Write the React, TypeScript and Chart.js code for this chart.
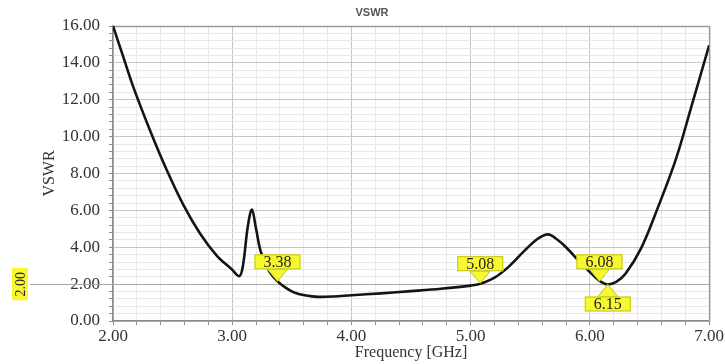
import React, { useEffect, useRef } from 'react';
import { Chart, registerables } from 'chart.js';

Chart.register(...registerables);

// ---- data ----
const freqGHz = [
  2.0, 2.08, 2.17, 2.31, 2.45, 2.59, 2.73, 2.87, 3.0, 3.06, 3.09, 3.13, 3.165,
  3.2, 3.24, 3.31, 3.38, 3.45, 3.52, 3.62, 3.72, 3.85, 4.0, 4.25, 4.5, 4.75,
  5.0, 5.08, 5.2, 5.32, 5.45, 5.56, 5.65, 5.72, 5.8, 5.93, 6.05, 6.1, 6.15,
  6.22, 6.3, 6.43, 6.57, 6.72, 6.85, 7.0,
];
const vswr = [
  16.0, 14.45, 12.7, 10.35, 8.2, 6.3, 4.75, 3.55, 2.78, 2.43, 3.0, 5.1, 6.05,
  5.0, 3.75, 2.7, 2.15, 1.8, 1.55, 1.38, 1.31, 1.33, 1.4, 1.5, 1.62, 1.75,
  1.92, 2.02, 2.35, 2.95, 3.8, 4.45, 4.7, 4.45, 4.0, 3.1, 2.35, 2.1, 1.98,
  2.12, 2.58, 3.95, 6.15, 8.75, 11.6, 14.95,
];

const markerFreqs = [3.38, 5.08, 6.08, 6.15];
const markerVswr = [2.15, 2.05, 2.15, 1.98];
const markerLabels = ['3.38', '5.08', '6.08', '6.15'];
const markerBelow = [false, false, false, true];

const refLineValue = 2;
const refLineLabel = '2.00';
const chartTitle = 'VSWR';
const xTitle = 'Frequency [GHz]';
const yTitle = 'VSWR';

const isMultiple = (v: number, m: number) => Math.abs(v / m - Math.round(v / m)) < 1e-6;

const SERIF = "'Liberation Serif', 'DejaVu Serif', serif";

const overlayPlugin = {
  id: 'overlay',
  beforeDatasetsDraw(chart: any) {
    const { ctx, chartArea: a, scales } = chart;
    const y = scales.y;
    ctx.save();
    // reference line at VSWR = 2
    const yy = Math.round(y.getPixelForValue(refLineValue)) + 0.5;
    ctx.strokeStyle = '#a8a8a8';
    ctx.lineWidth = 1;
    ctx.beginPath();
    ctx.moveTo(30, yy);
    ctx.lineTo(a.right, yy);
    ctx.stroke();
    // top + right frame
    ctx.strokeStyle = '#9a9a9a';
    ctx.lineWidth = 1.5;
    ctx.beginPath();
    ctx.moveTo(a.left, a.top + 0.5);
    ctx.lineTo(a.right + 0.5, a.top + 0.5);
    ctx.lineTo(a.right + 0.5, a.bottom);
    ctx.stroke();
    ctx.restore();
  },
  afterDraw(chart: any) {
    const { ctx, scales } = chart;
    const x = scales.x;
    const y = scales.y;
    ctx.save();
    // title
    ctx.font = "bold 11px 'Liberation Sans', Arial, sans-serif";
    ctx.fillStyle = '#555';
    ctx.textAlign = 'center';
    ctx.textBaseline = 'middle';
    ctx.fillText(chartTitle, 372, 13);

    // markers
    ctx.font = `16px ${SERIF}`;
    markerFreqs.forEach((f, i) => {
      const px = x.getPixelForValue(f);
      const py = y.getPixelForValue(markerVswr[i]);
      const w = ctx.measureText(markerLabels[i]).width + 18;
      const h = 15;
      const gap = 12;
      const below = markerBelow[i];
      const boxTop = below ? py + gap : py - gap - h;
      const baseY = below ? boxTop : boxTop + h;
      ctx.fillStyle = '#f8f832';
      ctx.strokeStyle = '#c2c21a';
      ctx.lineWidth = 1;
      // triangle
      ctx.beginPath();
      ctx.moveTo(px - 10, baseY);
      ctx.lineTo(px, py);
      ctx.lineTo(px + 10, baseY);
      ctx.closePath();
      ctx.fill();
      ctx.stroke();
      // box
      ctx.fillRect(px - w / 2, boxTop, w, h);
      ctx.strokeRect(px - w / 2 + 0.5, boxTop + 0.5, w - 1, h - 1);
      ctx.fillStyle = '#222';
      ctx.textAlign = 'center';
      ctx.textBaseline = 'middle';
      ctx.fillText(markerLabels[i], px, boxTop + h / 2 + 1);
    });

    // y-marker label (rotated)
    const ry = y.getPixelForValue(refLineValue);
    ctx.translate(20, ry);
    ctx.rotate(-Math.PI / 2);
    ctx.font = `14px ${SERIF}`;
    const lw = ctx.measureText(refLineLabel).width + 8;
    ctx.fillStyle = '#f8f832';
    ctx.fillRect(-lw / 2, -8, lw, 16);
    ctx.fillStyle = '#222';
    ctx.textAlign = 'center';
    ctx.textBaseline = 'middle';
    ctx.fillText(refLineLabel, 0, 1);
    ctx.restore();
  },
};

export default function App() {
  const ref = useRef<HTMLCanvasElement | null>(null);

  useEffect(() => {
    if (!ref.current) return;
    const chart = new Chart(ref.current, {
      type: 'line',
      data: {
        datasets: [
          {
            data: freqGHz.map((f, i) => ({ x: f, y: vswr[i] })),
            borderColor: '#141414',
            borderWidth: 2.6,
            pointRadius: 0,
            tension: 0.35,
            fill: false,
          },
        ],
      },
      options: {
        animation: false,
        responsive: false,
        maintainAspectRatio: false,
        layout: { padding: { top: 26, right: 14, left: 0, bottom: 0 } },
        plugins: {
          legend: { display: false },
          tooltip: { enabled: false },
          title: { display: false },
        },
        scales: {
          x: {
            type: 'linear',
            min: 2,
            max: 7,
            afterFit: (s: any) => {
              s.height = 43;
            },
            ticks: {
              stepSize: 0.2,
              autoSkip: false,
              maxRotation: 0,
              padding: 1,
              color: '#333',
              font: { family: SERIF, size: 17 },
              callback: (v: any) => (isMultiple(Number(v), 1) ? Number(v).toFixed(2) : ''),
            },
            grid: {
              color: (c: any) => (isMultiple(c.tick.value, 1) ? '#c6c6c6' : '#e8e8e8'),
              tickColor: '#8a8a8a',
              tickLength: 4,
            },
            border: { color: '#8a8a8a', width: 1.5 },
            title: {
              display: true,
              text: xTitle,
              color: '#333',
              font: { family: SERIF, size: 16 },
              padding: { top: 0, bottom: 2 },
            },
          },
          y: {
            min: 0,
            max: 16,
            afterFit: (s: any) => {
              s.width = 113;
            },
            ticks: {
              stepSize: 0.4,
              autoSkip: false,
              padding: 9,
              color: '#333',
              font: { family: SERIF, size: 17 },
              callback: (v: any) => (isMultiple(Number(v), 2) ? Number(v).toFixed(2) : ''),
            },
            grid: {
              color: (c: any) => (isMultiple(c.tick.value, 2) ? '#c6c6c6' : '#e8e8e8'),
              tickColor: '#8a8a8a',
              tickLength: 4,
            },
            border: { color: '#8a8a8a', width: 1.5 },
            title: {
              display: true,
              text: yTitle,
              color: '#333',
              font: { family: SERIF, size: 16 },
              padding: { top: 40, bottom: 0 },
            },
          },
        },
      },
      plugins: [overlayPlugin],
    } as any);
    return () => chart.destroy();
  }, []);

  return (
    <div style={{ position: 'fixed', left: 0, top: 0, width: 725, height: 364, background: '#fff' }}>
      <canvas ref={ref} width={725} height={364} style={{ width: 725, height: 364, display: 'block' }} />
    </div>
  );
}
